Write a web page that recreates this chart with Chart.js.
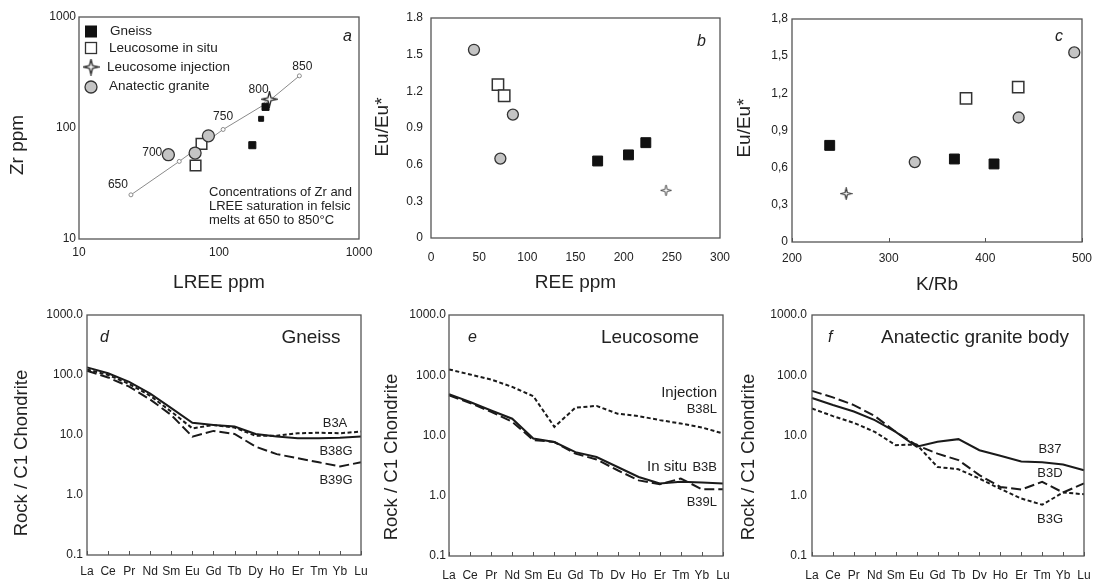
<!DOCTYPE html>
<html>
<head>
<meta charset="utf-8">
<script src="https://cdn.jsdelivr.net/npm/chart.js@4.4.0/dist/chart.umd.min.js"></script>
<style>
  body { margin: 0; background: #fff; }
  #wrap { position: relative; width: 1094px; height: 579px; }
  canvas { position: absolute; left: 0; top: 0; }
</style>
</head>
<body>
<div id="wrap">
  <canvas id="pa" width="1094" height="579"></canvas>
  <canvas id="pb" width="1094" height="579"></canvas>
  <canvas id="pc" width="1094" height="579"></canvas>
  <canvas id="pd" width="1094" height="579"></canvas>
  <canvas id="pe" width="1094" height="579"></canvas>
  <canvas id="pf" width="1094" height="579"></canvas>
</div>
<script>
// ---- data (a) LREE vs Zr, saturation line 650-850 C
const satLree = [23.5, 52, 107, 215, 375];
const satZr = [25, 50, 97, 165, 295];
const satTemps = ['650', '700', '750', '800', '850'];
const gneissLree = [215, 200, 173];
const gneissZr = [155, 121, 70];
const insituLree = [75, 68];
const insituZr = [72, 46];
const injLree = [229];
const injZr = [182];
const graniteLree = [43.5, 67.5, 84];
const graniteZr = [57.5, 59.5, 85];

// ---- data (b) REE vs Eu/Eu*
const gneissRee = [173, 205, 223];
const gneissEuB = [0.63, 0.68, 0.78];
const insituRee = [69.5, 76];
const insituEuB = [1.255, 1.164];
const injRee = [244];
const injEuB = [0.39];
const graniteRee = [44.6, 85, 72];
const graniteEuB = [1.54, 1.01, 0.65];

// ---- data (c) K/Rb vs Eu/Eu*
const gneissKRb = [239, 368, 409];
const gneissEuC = [0.78, 0.67, 0.63];
const insituKRb = [380, 434];
const insituEuC = [1.16, 1.25];
const injKRb = [256];
const injEuC = [0.39];
const graniteKRb = [327, 434.5, 492];
const graniteEuC = [0.645, 1.005, 1.53];

// ---- data (d-f) chondrite normalised REE
const reeLabels = ['La', 'Ce', 'Pr', 'Nd', 'Sm', 'Eu', 'Gd', 'Tb', 'Dy', 'Ho', 'Er', 'Tm', 'Yb', 'Lu'];
const b3a = [124, 100, 71, 45, 24.5, 12.9, 14.7, 13.3, 9.7, 9.7, 10.7, 10.9, 10.7, 11.4];
const b38g = [134, 107, 77, 49, 28, 16, 14.7, 13.8, 10.4, 9.4, 8.8, 8.8, 9.0, 9.4];
const b39g = [118, 91, 64, 39, 21.5, 9.4, 11.7, 10.4, 6.4, 4.8, 4.1, 3.5, 3.0, 3.5];
const b38l = [125, 103, 85, 64, 45, 13.9, 29, 31, 23, 21, 18, 15.8, 13.6, 10.8];
const b3b = [48.6, 36, 26, 19, 8.9, 7.8, 5.3, 4.4, 3.0, 2.05, 1.6, 1.7, 1.66, 1.6];
const b39l = [46.6, 34.6, 24.7, 16.9, 8.4, 7.8, 5.0, 4.0, 2.65, 1.8, 1.55, 1.93, 1.28, 1.28];
const b37 = [42, 32, 25, 18, 11.5, 6.5, 7.9, 8.7, 5.7, 4.6, 3.7, 3.6, 3.3, 2.65];
const b3d = [55, 43, 32, 21, 11.5, 6.9, 5.0, 3.9, 2.2, 1.4, 1.27, 1.7, 1.13, 1.6];
const b3g = [28, 21, 16.2, 11.5, 6.9, 7.1, 3.0, 2.75, 1.93, 1.3, 0.9, 0.71, 1.13, 1.06];

const W = 1094, H = 579;
const FONT = "'Liberation Sans', Arial, Helvetica, sans-serif";
Chart.defaults.font.family = FONT;
Chart.defaults.color = '#222';
Chart.defaults.animation = false;

const pts = (xs, ys) => xs.map((x, i) => ({ x: x, y: ys[i] }));

function starImage(size, lw) {
    const c = document.createElement('canvas');
    c.width = c.height = size;
    const g = c.getContext('2d');
    const m = size / 2, r = size / 2 - 1, ri = r * 0.28;
    g.beginPath();
    for (let k = 0; k < 8; k++) {
        const a = k * Math.PI / 4 - Math.PI / 2;
        const rr = k % 2 ? ri : r;
        g.lineTo(m + rr * Math.cos(a), m + rr * Math.sin(a));
    }
    g.closePath();
    g.fillStyle = '#fff';
    g.fill();
    g.lineWidth = lw;
    g.strokeStyle = '#222';
    g.stroke();
    return c;
}

const gneissStyle = { pointStyle: 'rect', backgroundColor: '#111', borderColor: '#111', borderWidth: 1, pointRadius: 7 };
const insituStyle = { pointStyle: 'rect', backgroundColor: '#fff', borderColor: '#333', borderWidth: 1.5, pointRadius: 8 };
const graniteStyle = { pointStyle: 'circle', backgroundColor: '#c4c4c4', borderColor: '#333', borderWidth: 1.3, pointRadius: 5.5 };

function setText(ctx, n) {
    ctx.font = (n.italic ? 'italic ' : '') + (n.size || 12) + 'px ' + FONT;
    ctx.fillStyle = n.color || '#222';
    ctx.textAlign = n.align || 'left';
    ctx.textBaseline = 'middle';
    if (n.rotate) {
        ctx.save();
        ctx.translate(n.x, n.y);
        ctx.rotate(-Math.PI / 2);
        ctx.fillText(n.text, 0, 0);
        ctx.restore();
    } else {
        ctx.fillText(n.text, n.x, n.y);
    }
}

// box around the plot, inner x ticks, y title, free text
function framePlugin(box, deco) {
    return {
        id: 'frame',
        afterDraw(chart) {
            const ctx = chart.ctx, a = chart.chartArea;
            ctx.save();
            ctx.strokeStyle = '#555';
            ctx.lineWidth = 1.3;
            ctx.strokeRect(a.left, a.top, a.right - a.left, a.bottom - a.top);
            if (deco.xTicks) {
                const s = chart.scales.x;
                s.ticks.forEach((t, i) => {
                    const px = Math.round(s.getPixelForTick(i)) + 0.5;
                    ctx.lineWidth = 1;
                    ctx.beginPath();
                    ctx.moveTo(px, a.bottom);
                    ctx.lineTo(px, a.bottom - 4);
                    ctx.stroke();
                });
            }
            setText(ctx, { text: box.yTitle, x: box.yTitleX, y: box.yTitleY, size: box.titleSize, align: 'center', rotate: true });
            (deco.notes || []).forEach(n => setText(ctx, n));
            if (deco.extra) deco.extra(chart, ctx);
            ctx.restore();
        }
    };
}

function build(id, box, type, datasets, labels, xs, ys, deco) {
    const lh = box.titleSize * 1.2;
    const leftPad = box.yTitleX - lh / 2;
    const botEdge = box.xTitleY ? box.xTitleY + lh / 2 : box.b + 24;
    xs.afterFit = s => { s.height = botEdge - box.b; s.paddingLeft = 0; s.paddingRight = 0; };
    ys.afterFit = s => { s.width = box.l - leftPad; s.paddingTop = 0; s.paddingBottom = 0; };
    [xs, ys].forEach(s => {
        s.grid = { display: false, drawTicks: false };
        s.border = { display: false };
    });
    ys.title = { display: false };
    xs.title = { display: !!box.xTitle, text: box.xTitle || '', font: { size: box.titleSize }, padding: 0, color: '#222' };
    const data = { datasets: datasets };
    if (labels) data.labels = labels;
    new Chart(document.getElementById(id), {
        type: type,
        data: data,
        options: {
            responsive: false,
            animation: false,
            events: [],
            layout: { padding: { left: leftPad, top: box.t, right: W - box.r, bottom: H - botEdge } },
            plugins: { legend: { display: false }, tooltip: { enabled: false } },
            scales: { x: xs, y: ys }
        },
        plugins: [framePlugin(box, deco)]
    });
}

const fixTicks = vals => s => { s.ticks = vals.map(v => ({ value: v })); };
const TICK = 12;

// ---------------- panel a
const starA = starImage(17, 1.3);
build('pa', { l: 79, t: 17, r: 359, b: 239, yTitleX: 18, yTitleY: 145, xTitleY: 283, titleSize: 19,
    yTitle: 'Zr ppm', xTitle: 'LREE ppm' }, 'scatter', [
    { data: pts(injLree, injZr), pointStyle: starA, pointRadius: 8 },
    Object.assign({ data: pts(graniteLree, graniteZr) }, graniteStyle, { pointRadius: 6 }),
    Object.assign({ data: pts(insituLree, insituZr) }, insituStyle, { pointRadius: 7.5 }),
    Object.assign({ data: pts(gneissLree, gneissZr) }, gneissStyle, { pointRadius: [5, 3.5, 5] }),
    { data: pts(satLree, satZr), showLine: true, borderColor: '#8a8a8a', borderWidth: 1, pointRadius: 2,
      pointStyle: 'circle', pointBackgroundColor: '#fff', pointBorderColor: '#8a8a8a', pointBorderWidth: 1 }
], null,
    { type: 'logarithmic', min: 10, max: 1000, afterBuildTicks: fixTicks([10, 100, 1000]),
      ticks: { font: { size: TICK }, padding: 6, maxRotation: 0, callback: v => String(v) } },
    { type: 'logarithmic', min: 10, max: 1000, afterBuildTicks: fixTicks([10, 100, 1000]),
      ticks: { font: { size: TICK }, padding: 3, callback: v => String(v) } },
    {
        notes: [
            { text: 'a', x: 343, y: 37, size: 16, italic: true },
            { text: 'Concentrations of Zr and', x: 209, y: 192, size: 13 },
            { text: 'LREE saturation in felsic', x: 209, y: 206, size: 13 },
            { text: 'melts at 650 to 850\u00b0C', x: 209, y: 220, size: 13 },
            { text: 'Gneiss', x: 110, y: 31, size: 13.5 },
            { text: 'Leucosome in situ', x: 109, y: 48, size: 13.5 },
            { text: 'Leucosome injection', x: 107, y: 67, size: 13.5 },
            { text: 'Anatectic granite', x: 109, y: 86, size: 13.5 }
        ],
        extra: (chart, ctx) => {
            // temperature labels next to the saturation points
            const off = [[-13, -10], [-27, -9], [0, -13], [-7, -14], [3, -9]];
            const sx = chart.scales.x, sy = chart.scales.y;
            satTemps.forEach((t, i) => setText(ctx, {
                text: t, align: 'center', size: 12,
                x: sx.getPixelForValue(satLree[i]) + off[i][0],
                y: sy.getPixelForValue(satZr[i]) + off[i][1]
            }));
            // legend symbols
            ctx.fillStyle = '#111';
            ctx.fillRect(85, 25.5, 12, 12);
            ctx.fillStyle = '#fff';
            ctx.strokeStyle = '#333';
            ctx.lineWidth = 1.3;
            ctx.fillRect(85.5, 42.5, 11, 11);
            ctx.strokeRect(85.5, 42.5, 11, 11);
            ctx.drawImage(starA, 91 - 8.5, 67 - 8.5);
            ctx.beginPath();
            ctx.arc(91, 87, 6, 0, Math.PI * 2);
            ctx.fillStyle = '#c4c4c4';
            ctx.fill();
            ctx.stroke();
        }
    });

// ---------------- panel b
const starB = starImage(13, 0.8);
const fmtDot = v => v === 0 ? '0' : v.toFixed(1);
const fmtComma = v => v === 0 ? '0' : v.toFixed(1).replace('.', ',');
build('pb', { l: 431, t: 18, r: 720, b: 238, yTitleX: 383, yTitleY: 127, xTitleY: 283, titleSize: 19,
    yTitle: 'Eu/Eu*', xTitle: 'REE ppm' }, 'scatter', [
    Object.assign({ data: pts(graniteRee, graniteEuB) }, graniteStyle),
    Object.assign({ data: pts(insituRee, insituEuB) }, insituStyle),
    Object.assign({ data: pts(gneissRee, gneissEuB) }, gneissStyle),
    { data: pts(injRee, injEuB), pointStyle: starB, pointRadius: 6 }
], null,
    { type: 'linear', min: 0, max: 300, ticks: { stepSize: 50, font: { size: TICK }, padding: 12, maxRotation: 0 } },
    { type: 'linear', min: 0, max: 1.8, ticks: { stepSize: 0.3, font: { size: TICK }, padding: 8, callback: fmtDot } },
    { notes: [{ text: 'b', x: 697, y: 42, size: 16, italic: true }] });

// ---------------- panel c
const starC = starImage(13, 1.1);
build('pc', { l: 792, t: 19, r: 1082, b: 242, yTitleX: 745, yTitleY: 128, xTitleY: 285, titleSize: 19,
    yTitle: 'Eu/Eu*', xTitle: 'K/Rb' }, 'scatter', [
    Object.assign({ data: pts(graniteKRb, graniteEuC) }, graniteStyle),
    Object.assign({ data: pts(insituKRb, insituEuC) }, insituStyle),
    Object.assign({ data: pts(gneissKRb, gneissEuC) }, gneissStyle),
    { data: pts(injKRb, injEuC), pointStyle: starC, pointRadius: 6 }
], null,
    { type: 'linear', min: 200, max: 500, ticks: { stepSize: 100, font: { size: TICK }, padding: 9, maxRotation: 0 } },
    { type: 'linear', min: 0, max: 1.8, ticks: { stepSize: 0.3, font: { size: TICK }, padding: 4, callback: fmtComma } },
    { xTicks: true, notes: [{ text: 'c', x: 1055, y: 37, size: 16, italic: true }] });

// ---------------- panels d-f
const SOLID = [], LONG = [10, 4], SHORT = [4, 2.5];
const reeLine = (vals, dash) => ({ data: vals, borderColor: '#1a1a1a', borderWidth: 2, borderDash: dash, pointRadius: 0, tension: 0 });
const reeX = pad => ({ type: 'category', offset: false, ticks: { font: { size: TICK }, padding: pad, autoSkip: false, maxRotation: 0 } });
const reeY = pad => ({ type: 'logarithmic', min: 0.1, max: 1000, afterBuildTicks: fixTicks([0.1, 1, 10, 100, 1000]),
    ticks: { font: { size: TICK }, padding: pad, callback: v => Number(v).toFixed(1) } });
const chond = 'Rock / C1 Chondrite';

build('pd', { l: 87, t: 315, r: 361, b: 555, yTitleX: 22, yTitleY: 453, titleSize: 18.5, yTitle: chond }, 'line',
    [reeLine(b3a, SHORT), reeLine(b38g, SOLID), reeLine(b39g, LONG)], reeLabels, reeX(9), reeY(4),
    {
        xTicks: true, notes: [
            { text: 'd', x: 100, y: 338, size: 16, italic: true },
            { text: 'Gneiss', x: 311, y: 338, size: 19, align: 'center' },
            { text: 'B3A', x: 335, y: 423, size: 13, align: 'center' },
            { text: 'B38G', x: 336, y: 451, size: 13, align: 'center' },
            { text: 'B39G', x: 336, y: 480, size: 13, align: 'center' }
        ]
    });

build('pe', { l: 449, t: 315, r: 723, b: 556, yTitleX: 392, yTitleY: 457, titleSize: 18.5, yTitle: chond }, 'line',
    [reeLine(b38l, SHORT), reeLine(b3b, SOLID), reeLine(b39l, LONG)], reeLabels, reeX(12), reeY(3),
    {
        xTicks: true, notes: [
            { text: 'e', x: 468, y: 338, size: 16, italic: true },
            { text: 'Leucosome', x: 650, y: 338, size: 19, align: 'center' },
            { text: 'Injection', x: 717, y: 393, size: 15, align: 'right' },
            { text: 'B38L', x: 717, y: 409, size: 13, align: 'right' },
            { text: 'In situ', x: 667, y: 467, size: 15, align: 'center' },
            { text: 'B3B', x: 717, y: 467, size: 13, align: 'right' },
            { text: 'B39L', x: 717, y: 502, size: 13, align: 'right' }
        ]
    });

build('pf', { l: 812, t: 315, r: 1084, b: 556, yTitleX: 749, yTitleY: 457, titleSize: 18.5, yTitle: chond }, 'line',
    [reeLine(b37, SOLID), reeLine(b3d, LONG), reeLine(b3g, SHORT)], reeLabels, reeX(12), reeY(5),
    {
        xTicks: true, notes: [
            { text: 'f', x: 828, y: 338, size: 16, italic: true },
            { text: 'Anatectic granite body', x: 975, y: 338, size: 19, align: 'center' },
            { text: 'B37', x: 1050, y: 449, size: 13, align: 'center' },
            { text: 'B3D', x: 1050, y: 473, size: 13, align: 'center' },
            { text: 'B3G', x: 1050, y: 519, size: 13, align: 'center' }
        ]
    });
</script>
</body>
</html>
